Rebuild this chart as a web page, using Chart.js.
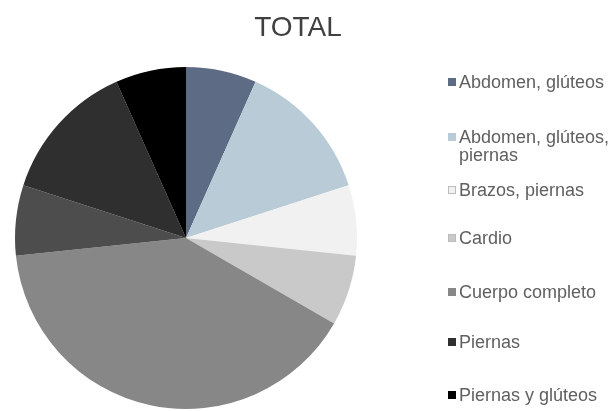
<!DOCTYPE html>
<html>
<head>
<meta charset="utf-8">
<script src="https://cdn.jsdelivr.net/npm/chart.js@4"></script>
<style>
  body { margin: 0; background: #fff; }
  #wrap { position: relative; width: 610px; height: 411px; overflow: hidden; }
  #title { position: absolute; left: 0; width: 596px; top: 11px; text-align: center;
    font-family: "Liberation Sans", Arial, sans-serif; font-size: 28px; color: #404040; }
  #legend { position: absolute; left: 448px; top: 0; width: 170px; }
  .item { position: absolute; left: 0; display: flex; align-items: flex-start;
    font-family: "Liberation Sans", Arial, sans-serif; font-size: 18px; color: #606060; line-height: 18px; }
  .box { width: 8px; height: 8px; margin: 5px 3px 0 0; flex: none; box-sizing: border-box; }
</style>
</head>
<body>
<div id="wrap">
  <canvas id="pie" width="610" height="411"></canvas>
  <div id="title">TOTAL</div>
  <div id="legend"></div>
</div>
<script>
// datos (conteo por tipo de rutina)
const labels = ['Abdomen, glúteos', 'Abdomen, glúteos, piernas', 'Brazos, piernas', 'Cardio',
                'Cuerpo completo', 'Glúteos', 'Piernas', 'Piernas y glúteos'];
const counts = [1, 2, 1, 1, 6, 1, 2, 1];
const colors = ['#5d6c84', '#b9cbd7', '#f1f1f1', '#c9c9c9', '#878787', '#4d4d4d', '#2f2f2f', '#000000'];
const inLegend = [true, true, true, true, true, false, true, true];
const legendTop = [73, 128, 181, 229, 283, 333, 386]; // y of each legend row

const ctx = document.getElementById('pie').getContext('2d');
const chart = new Chart(ctx, {
  type: 'pie',
  data: {
    labels: labels,
    datasets: [{
      data: counts,
      backgroundColor: colors,
      borderWidth: 0
    }]
  },
  options: {
    responsive: false,
    animation: false,
    layout: { padding: { left: 15, top: 67, right: 253, bottom: 2 } },
    plugins: {
      legend: { display: false },
      tooltip: { enabled: false }
    }
  }
});

// html legend
const leg = document.getElementById('legend');
let row = 0;
labels.forEach((lab, i) => {
  if (!inLegend[i]) return;
  const it = document.createElement('div');
  it.className = 'item';
  it.style.top = legendTop[row] + 'px';
  const b = document.createElement('span');
  b.className = 'box';
  b.style.background = colors[i];
  if (i == 2 || i == 3) b.style.border = '1px solid #bbb';
  const t = document.createElement('span');
  t.textContent = lab;
  if (lab.length > 20) t.style.width = '155px';
  it.appendChild(b);
  it.appendChild(t);
  leg.appendChild(it);
  row++;
});
</script>
</body>
</html>
